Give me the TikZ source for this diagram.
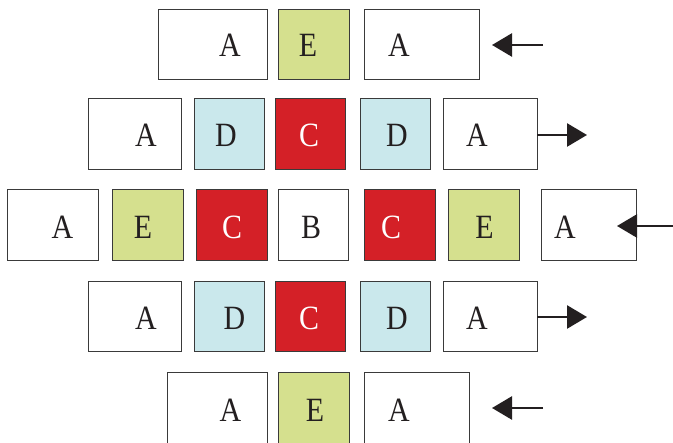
\documentclass[tikz,border=0pt]{standalone}
\usepackage{fontspec}
\setmainfont{Liberation Serif}
\usetikzlibrary{arrows.meta}
\definecolor{egreen}{HTML}{D5E08E}
\definecolor{dblue}{HTML}{CAE8EC}
\definecolor{cred}{HTML}{D42027}
\definecolor{ink}{HTML}{231F20}
\definecolor{edge}{HTML}{3A3A3A}
\tikzset{
  cell/.style={draw=edge, line width=1pt, inner sep=0pt},
  lab/.style={inner sep=0pt, text=ink, font=\fontsize{34}{34}\selectfont},
  wlab/.style={lab, text=white},
  move/.style={draw=ink, line width=2.6pt, -{Triangle[length=20pt,width=23pt]}},
}
\newcommand{\tx}[1]{\scalebox{0.88}[1]{#1}}
\begin{document}
\begin{tikzpicture}[x=1pt,y=-1pt]
\useasboundingbox (0,0) rectangle (673,443);
\clip (0,0) rectangle (673,443);
% row 1
\draw[cell,fill=white] (158,10) rectangle (267,80);
\draw[cell,fill=egreen] (278,10) rectangle (349,80);
\draw[cell,fill=white] (364,10) rectangle (479,80);
\node[lab] (r1a) at (230,45) {\tx{A}};
\node[lab] (r1e) at (308,45) {\tx{E}};
\node[lab] (r1b) at (399,45) {\tx{A}};
\coordinate (r1s) at (543,45);
\coordinate (r1t) at (492,45);
\draw[move] (r1s) -- (r1t);
% row 2
\draw[cell,fill=white] (88,99) rectangle (181,170);
\draw[cell,fill=dblue] (194,99) rectangle (264,170);
\draw[cell,fill=cred] (275,99) rectangle (345,170);
\draw[cell,fill=dblue] (360,99) rectangle (430,170);
\draw[cell,fill=white] (443,99) rectangle (537,170);
\node[lab] (r2a) at (146,135) {\tx{A}};
\node[lab] (r2d) at (226,135) {\tx{D}};
\node[wlab] (r2c) at (309,135) {\tx{C}};
\node[lab] (r2e) at (397,135) {\tx{D}};
\node[lab] (r2b) at (477,135) {\tx{A}};
\coordinate (r2s) at (537,135);
\coordinate (r2t) at (587,135);
\draw[move] (r2s) -- (r2t);
% row 3
\draw[cell,fill=white] (7,190) rectangle (98,261);
\draw[cell,fill=egreen] (112,190) rectangle (183,261);
\draw[cell,fill=cred] (196,190) rectangle (267,261);
\draw[cell,fill=white] (278,190) rectangle (348,261);
\draw[cell,fill=cred] (364,190) rectangle (435,261);
\draw[cell,fill=egreen] (448,190) rectangle (519,261);
\draw[cell,fill=white] (541,190) rectangle (636,261);
\node[lab] (r3a) at (62.5,227) {\tx{A}};
\node[lab] (r3e) at (143,227) {\tx{E}};
\node[wlab] (r3c) at (232,227) {\tx{C}};
\node[lab] (r3m) at (311,227) {\tx{B}};
\node[wlab] (r3d) at (391,227) {\tx{C}};
\node[lab] (r3f) at (484.5,227) {\tx{E}};
\node[lab] (r3b) at (565,227) {\tx{A}};
\coordinate (r3s) at (673,226);
\coordinate (r3t) at (617,226);
\draw[move] (r3s) -- (r3t);
% row 4
\draw[cell,fill=white] (88,282) rectangle (181,352);
\draw[cell,fill=dblue] (194,282) rectangle (264,352);
\draw[cell,fill=cred] (275,282) rectangle (345,352);
\draw[cell,fill=dblue] (360,282) rectangle (430,352);
\draw[cell,fill=white] (443,282) rectangle (537,352);
\node[lab] (r4a) at (146,318) {\tx{A}};
\node[lab] (r4d) at (234.5,318) {\tx{D}};
\node[wlab] (r4c) at (309,318) {\tx{C}};
\node[lab] (r4e) at (397,318) {\tx{D}};
\node[lab] (r4b) at (477,318) {\tx{A}};
\coordinate (r4s) at (537,317);
\coordinate (r4t) at (587,317);
\draw[move] (r4s) -- (r4t);
% row 5
\draw[cell,fill=white] (167,373) rectangle (267,450);
\draw[cell,fill=egreen] (278,373) rectangle (349,450);
\draw[cell,fill=white] (364,373) rectangle (469,450);
\node[lab] (r5a) at (230.5,410) {\tx{A}};
\node[lab] (r5e) at (315,410) {\tx{E}};
\node[lab] (r5b) at (399,410) {\tx{A}};
\coordinate (r5s) at (543,408);
\coordinate (r5t) at (492,408);
\draw[move] (r5s) -- (r5t);
\end{tikzpicture}
\end{document}
